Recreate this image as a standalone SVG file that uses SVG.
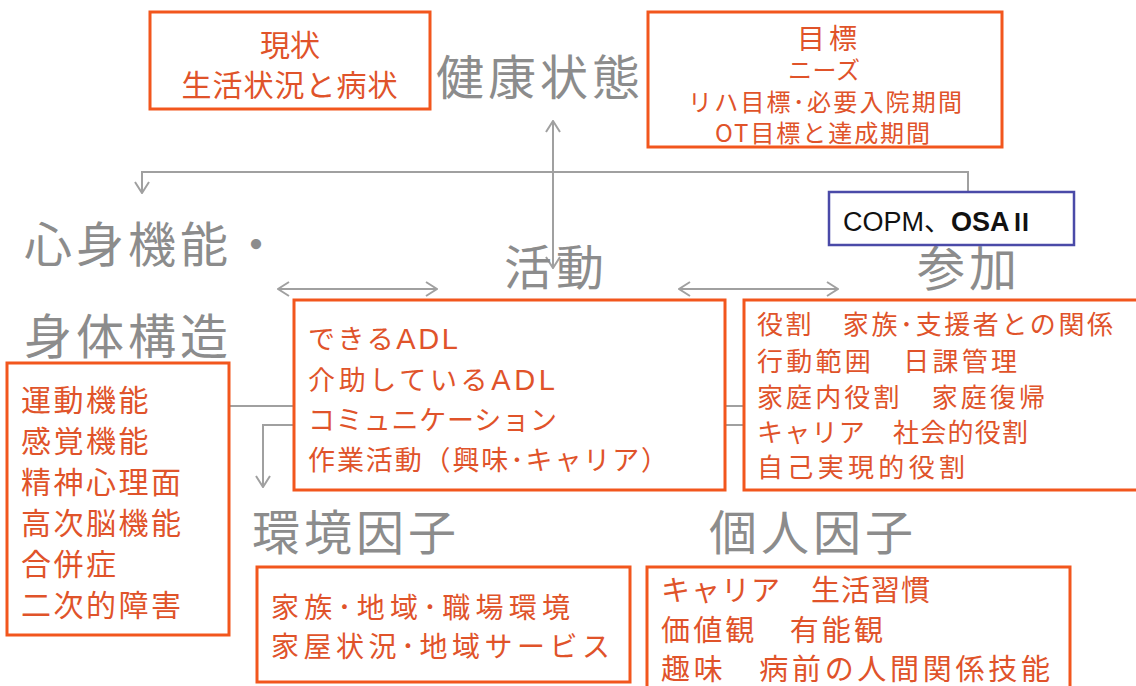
<svg xmlns="http://www.w3.org/2000/svg" width="1136" height="686" viewBox="0 0 1136 686">
<style>
.bg{fill:#ffffff}
.box{fill:#ffffff;stroke:#F2561D;stroke-width:3}
.bbox{fill:#ffffff;stroke:#4A4AA8;stroke-width:2.5}
.t{font-family:"Noto Sans CJK JP","Noto Sans",sans-serif;fill:#E0532A}
.h{font-family:"Noto Sans CJK JP","Noto Sans",sans-serif;fill:#8C8C8C;font-size:48px;letter-spacing:4px}
.c{fill:none;stroke:#A0A0A0;stroke-width:2}
.blk{font-family:"Liberation Sans","Noto Sans CJK JP",sans-serif;fill:#111111;font-size:27px}
.lat{font-family:"Liberation Sans","Noto Sans",sans-serif}
</style>
<defs>
<marker id="ah" viewBox="0 0 13 16" refX="12" refY="8" markerWidth="13" markerHeight="16" markerUnits="userSpaceOnUse" orient="auto-start-reverse">
<path d="M1,1 L12,8 L1,15" fill="none" stroke="#A0A0A0" stroke-width="2"/>
</marker>
</defs>
<rect class="bg" x="0" y="0" width="1136" height="686"/>

<g id="connectors">
<path class="c" d="M968,192 V172 H142 V193" marker-end="url(#ah)"/>
<path class="c" d="M553,121 V268" marker-start="url(#ah)" marker-end="url(#ah)"/>
<path class="c" d="M278,289 H437" marker-start="url(#ah)" marker-end="url(#ah)"/>
<path class="c" d="M679,289 H838" marker-start="url(#ah)" marker-end="url(#ah)"/>
<path class="c" d="M229,406 H744"/>
<path class="c" d="M744,425 H263 V487" marker-end="url(#ah)"/>
</g>

<g id="h-kenko"><text class="h" x="436" y="95" letter-spacing="3">健康状態</text></g>
<g id="h-shinshin"><text class="h" x="24" y="262" letter-spacing="3">心身機能・</text><text class="h" x="24" y="354">身体構造</text></g>
<g id="h-katsudo"><text class="h" x="504" y="285">活動</text></g>
<g id="h-sanka"><text class="h" x="917" y="286">参加</text></g>
<g id="h-kankyo"><text class="h" x="252" y="550">環境因子</text></g>
<g id="h-kojin"><text class="h" x="709" y="550">個人因子</text></g>

<g id="genjo">
<rect class="box" x="150" y="12" width="280" height="97"/>
<text class="t" x="290" y="56" font-size="30" text-anchor="middle">現状</text>
<text class="t" x="290" y="96" font-size="30" text-anchor="middle" letter-spacing="1">生活状況と病状</text>
</g>

<g id="mokuhyo">
<rect class="box" x="648" y="12" width="354" height="135"/>
<text class="t" x="797" y="49" font-size="28" textLength="60" lengthAdjust="spacing">目標</text>
<text class="t" x="788" y="79" font-size="24" textLength="72" lengthAdjust="spacing">ニーズ</text>
<text class="t" x="688" y="111" font-size="24" textLength="274" lengthAdjust="spacing">リハ目標･必要入院期間</text>
<text class="t" x="715" y="142" font-size="24" textLength="215" lengthAdjust="spacing">OT目標と達成期間</text>
</g>

<g id="assess">
<rect class="bbox" x="829" y="192" width="245" height="53"/>
<text class="blk" x="843" y="231">COPM、<tspan font-weight="bold">OSA</tspan><tspan font-family="Noto Sans CJK JP, sans-serif" font-weight="bold" font-size="24">Ⅱ</tspan></text>
</g>

<g id="body">
<rect class="box" x="7" y="363" width="222" height="272"/>
<text class="t" font-size="30" letter-spacing="2.5">
<tspan x="21" y="411">運動機能</tspan>
<tspan x="21" y="452">感覚機能</tspan>
<tspan x="21" y="493">精神心理面</tspan>
<tspan x="21" y="534">高次脳機能</tspan>
<tspan x="21" y="575">合併症</tspan>
<tspan x="21" y="616">二次的障害</tspan>
</text>
</g>

<g id="activity">
<rect class="box" x="294" y="300" width="431" height="190"/>
<text class="t" font-size="27" x="308" y="349" textLength="150" lengthAdjust="spacing">できる<tspan class="lat" font-size="29">ADL</tspan></text>
<text class="t" font-size="27" x="308" y="390" textLength="247" lengthAdjust="spacing">介助している<tspan class="lat" font-size="29">ADL</tspan></text>
<text class="t" font-size="27" x="308" y="430" textLength="249" lengthAdjust="spacing">コミュニケーション</text>
<text class="t" font-size="27" x="308" y="470" textLength="360" lengthAdjust="spacing">作業活動（興味･キャリア）</text>
</g>

<g id="participation">
<rect class="box" x="744" y="300" width="400" height="190"/>
<text class="t" font-size="26" x="757" y="334" textLength="356" lengthAdjust="spacing">役割　家族･支援者との関係</text>
<text class="t" font-size="26" x="757" y="371" textLength="260" lengthAdjust="spacing">行動範囲　日課管理</text>
<text class="t" font-size="26" x="757" y="407" textLength="288" lengthAdjust="spacing">家庭内役割　家庭復帰</text>
<text class="t" font-size="26" x="757" y="442" textLength="271" lengthAdjust="spacing">キャリア　社会的役割</text>
<text class="t" font-size="26" x="757" y="477" textLength="208" lengthAdjust="spacing">自己実現的役割</text>
</g>

<g id="env">
<rect class="box" x="257" y="567" width="373" height="115"/>
<text class="t" font-size="28" x="271" y="618" textLength="299" lengthAdjust="spacing">家族･地域･職場環境</text>
<text class="t" font-size="28" x="271" y="657" textLength="339" lengthAdjust="spacing">家屋状況･地域サービス</text>
</g>

<g id="personal">
<rect class="box" x="647" y="567" width="423" height="140"/>
<text class="t" font-size="29" x="661" y="601" textLength="269" lengthAdjust="spacing">キャリア　生活習慣</text>
<text class="t" font-size="29" x="661" y="641" textLength="222" lengthAdjust="spacing">価値観　有能観</text>
<text class="t" font-size="29" x="661" y="680" textLength="389" lengthAdjust="spacing">趣味　病前の人間関係技能</text>
</g>
</svg>
